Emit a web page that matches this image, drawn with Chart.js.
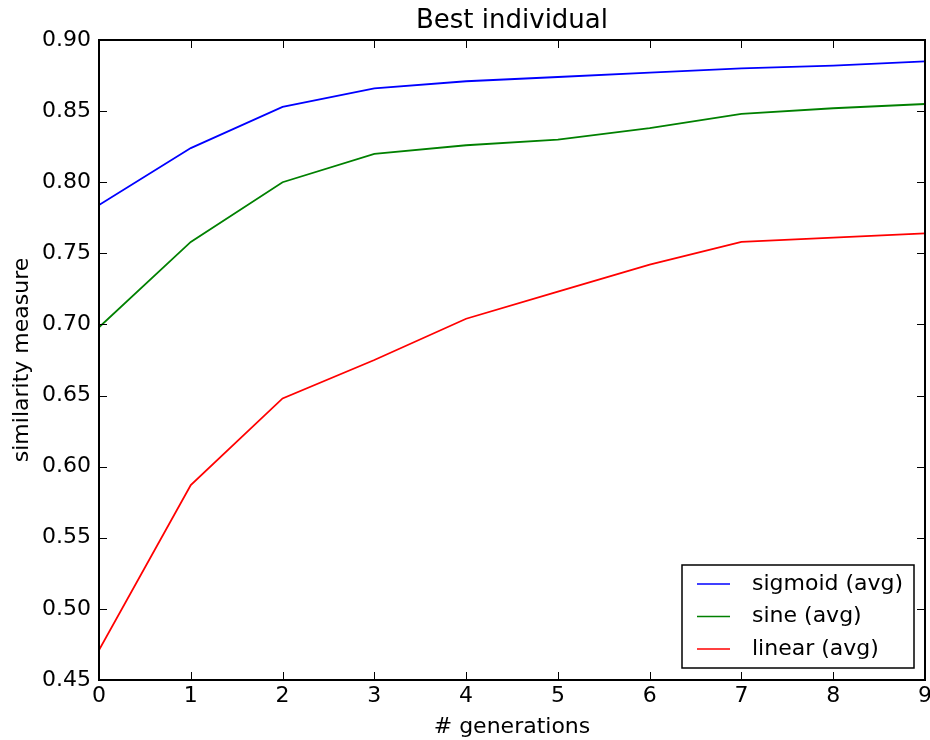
<!DOCTYPE html>
<html>
<head>
<meta charset="utf-8">
<script src="https://cdn.jsdelivr.net/npm/chart.js@4"></script>
<style>
  html, body { margin: 0; padding: 0; background: #fff; }
  #wrap { width: 930px; height: 740px; }
</style>
</head>
<body>
<div id="wrap"><canvas id="graph"></canvas></div>
<script>
const generations = [0, 1, 2, 3, 4, 5, 6, 7, 8, 9];
const sigmoidAvg = [0.784, 0.824, 0.853, 0.866, 0.871, 0.874, 0.877, 0.880, 0.882, 0.885];
const sineAvg = [0.698, 0.758, 0.800, 0.820, 0.826, 0.830, 0.838, 0.848, 0.852, 0.855];
const linearAvg = [0.471, 0.587, 0.648, 0.675, 0.704, 0.723, 0.742, 0.758, 0.761, 0.764];
const seriesLabels = ['sigmoid (avg)', 'sine (avg)', 'linear (avg)'];
const seriesColors = ['#0000ff', '#008000', '#ff0000'];
const chartTitle = 'Best individual';

const FONT = 'DejaVu Sans';

const toPoints = ys => generations.map((g, i) => ({ x: g, y: ys[i] }));

// matplotlib-style frame, inward ticks, title over the axes and legend box
const framePlugin = {
    id: 'frame',
    afterDatasetsDraw(chart) {
        const ctx = chart.ctx;
        const a = chart.chartArea;
        const xs = chart.scales.x, ys = chart.scales.y;
        ctx.save();
        ctx.strokeStyle = '#000';
        ctx.lineWidth = 1;
        xs.ticks.forEach(t => {
            const px = Math.round(xs.getPixelForValue(t.value)) + 0.5;
            ctx.beginPath();
            ctx.moveTo(px, a.bottom); ctx.lineTo(px, a.bottom - 8);
            ctx.moveTo(px, a.top); ctx.lineTo(px, a.top + 8);
            ctx.stroke();
        });
        ys.ticks.forEach(t => {
            const py = Math.round(ys.getPixelForValue(t.value)) + 0.5;
            ctx.beginPath();
            ctx.moveTo(a.left, py); ctx.lineTo(a.left + 8, py);
            ctx.moveTo(a.right, py); ctx.lineTo(a.right - 8, py);
            ctx.stroke();
        });
        ctx.lineWidth = 2;
        ctx.strokeRect(a.left, a.top, a.right - a.left, a.bottom - a.top);

        // title
        ctx.fillStyle = '#000';
        ctx.font = '26px "' + FONT + '"';
        ctx.textAlign = 'center';
        ctx.textBaseline = 'middle';
        ctx.fillText(chartTitle, (a.left + a.right) / 2, a.top - 19);

        // legend, lower right
        const bx = a.right - 243, by = a.bottom - 115, bw = 232, bh = 103;
        ctx.fillStyle = '#fff';
        ctx.fillRect(bx, by, bw, bh);
        ctx.lineWidth = 1.5;
        ctx.strokeRect(bx, by, bw, bh);
        ctx.font = '22px "' + FONT + '"';
        ctx.textAlign = 'left';
        chart.data.datasets.forEach((ds, i) => {
            const cy = by + 19 + i * 32.5;
            ctx.strokeStyle = ds.borderColor;
            ctx.lineWidth = 1.6;
            ctx.beginPath();
            ctx.moveTo(bx + 15, cy); ctx.lineTo(bx + 48, cy);
            ctx.stroke();
            ctx.fillStyle = '#000';
            ctx.fillText(ds.label, bx + 70, cy);
        });
        ctx.restore();
    }
};

const config = {
    type: 'line',
    data: {
        datasets: [sigmoidAvg, sineAvg, linearAvg].map((ys, i) => ({
            label: seriesLabels[i],
            data: toPoints(ys),
            borderColor: seriesColors[i],
            backgroundColor: seriesColors[i],
            borderWidth: 1.8,
            pointRadius: 0,
            tension: 0,
            fill: false
        }))
    },
    options: {
        responsive: true,
        maintainAspectRatio: false,
        animation: false,
        layout: { padding: { left: 0, right: 5, top: 40, bottom: 0 } },
        scales: {
            x: {
                type: 'linear',
                min: 0,
                max: 9,
                grid: { display: false, drawTicks: false },
                border: { display: false },
                ticks: {
                    stepSize: 1,
                    padding: 3,
                    color: '#000',
                    font: { family: FONT, size: 22 }
                },
                title: {
                    display: true,
                    text: '# generations',
                    color: '#000',
                    font: { family: FONT, size: 22 },
                    padding: { top: 4, bottom: 0 }
                },
                afterFit(scale) {
                    scale.height = 60;
                    scale.paddingLeft = 0;
                    scale.paddingRight = 0;
                }
            },
            y: {
                min: 0.45,
                max: 0.90,
                grid: { display: false, drawTicks: false },
                border: { display: false },
                ticks: {
                    stepSize: 0.05,
                    padding: 8,
                    color: '#000',
                    font: { family: FONT, size: 22 },
                    callback: v => v.toFixed(2)
                },
                title: {
                    display: true,
                    text: 'similarity measure',
                    color: '#000',
                    font: { family: FONT, size: 22 },
                    padding: { top: 9, bottom: 0 }
                },
                afterFit(scale) {
                    scale.width = 99;
                    scale.paddingTop = 0;
                    scale.paddingBottom = 0;
                }
            }
        },
        plugins: {
            legend: { display: false },
            tooltip: { enabled: false },
            title: { display: false }
        }
    },
    plugins: [framePlugin]
};

const myChart = new Chart(document.getElementById('graph'), config);
</script>
</body>
</html>
